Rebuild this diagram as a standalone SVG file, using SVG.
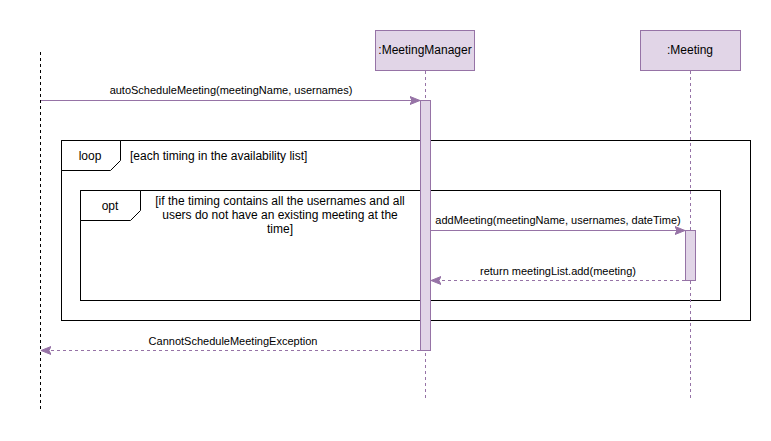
<svg xmlns="http://www.w3.org/2000/svg" width="771" height="441" viewBox="0 0 771 441">
<style>
text{font-family:"Liberation Sans",Arial,sans-serif;font-size:11px;fill:#000}
.big{font-size:12px}
.box{fill:#e1d5e7;stroke:#9673a6;stroke-width:1}
.life{stroke:#9673a6;stroke-dasharray:3 3;fill:none}
.msg{stroke:#9673a6;fill:none}
.ret{stroke:#9673a6;fill:none;stroke-dasharray:3 3}
.frame{fill:none;stroke:#000;stroke-width:1}
.tab{fill:#fff;stroke:#000;stroke-width:1}
</style>
<defs>
<marker id="ah" viewBox="0 0 10 10" refX="10" refY="5" markerWidth="10" markerHeight="10" markerUnits="userSpaceOnUse" orient="auto">
<path d="M0,1 L10,5 L0,9 L2,5 Z" fill="#9673a6" stroke="#9673a6"/>
</marker>
</defs>
<rect width="771" height="441" fill="#fff"/>
<g id="actor-left">
<line x1="40.5" y1="52" x2="40.5" y2="410" stroke="#000" stroke-dasharray="3 3"/>
</g>
<g id="frame-loop">
<rect class="frame" x="61.5" y="140.5" width="689" height="180"/>
<path class="tab" d="M61.5,140.5 H120.5 V160.5 L110.5,170.5 H61.5 Z"/>
<text class="big" x="90" y="160" text-anchor="middle">loop</text>
<text class="big" x="130" y="160">[each timing in the availability list]</text>
</g>
<g id="frame-opt">
<rect class="frame" x="80.5" y="190.5" width="640" height="110"/>
<path class="tab" d="M80.5,190.5 H140.5 V210.5 L130.5,220.5 H80.5 Z"/>
<text class="big" x="110" y="210" text-anchor="middle">opt</text>
<text class="big" x="280" y="205" text-anchor="middle">[if the timing contains all the usernames and all</text>
<text class="big" x="280" y="219" text-anchor="middle">users do not have an existing meeting at the</text>
<text class="big" x="280" y="233" text-anchor="middle">time]</text>
</g>
<g id="MeetingManager">
<rect class="box" x="375.5" y="30.5" width="99" height="40"/>
<text class="big" x="425" y="54" text-anchor="middle">:MeetingManager</text>
<line class="life" x1="425.5" y1="71" x2="425.5" y2="398"/>
<rect class="box" x="420.5" y="100.5" width="10" height="250"/>
</g>
<g id="Meeting">
<rect class="box" x="640.5" y="30.5" width="100" height="40"/>
<text class="big" x="690" y="54" text-anchor="middle">:Meeting</text>
<line class="life" x1="690.5" y1="71" x2="690.5" y2="398"/>
<rect class="box" x="685.5" y="230.5" width="10" height="50"/>
</g>
<g id="connectors">
<line class="msg" x1="41" y1="100.5" x2="420" y2="100.5" marker-end="url(#ah)"/>
<text x="231" y="94" text-anchor="middle">autoScheduleMeeting(meetingName, usernames)</text>
<line class="msg" x1="431" y1="230.5" x2="685" y2="230.5" marker-end="url(#ah)"/>
<text x="558" y="224" text-anchor="middle">addMeeting(meetingName, usernames, dateTime)</text>
<line class="ret" x1="685" y1="280.5" x2="431" y2="280.5" marker-end="url(#ah)"/>
<text x="558" y="275" text-anchor="middle">return meetingList.add(meeting)</text>
<line class="ret" x1="420" y1="350.5" x2="41" y2="350.5" marker-end="url(#ah)"/>
<text x="233" y="345" text-anchor="middle">CannotScheduleMeetingException</text>
</g>
</svg>
